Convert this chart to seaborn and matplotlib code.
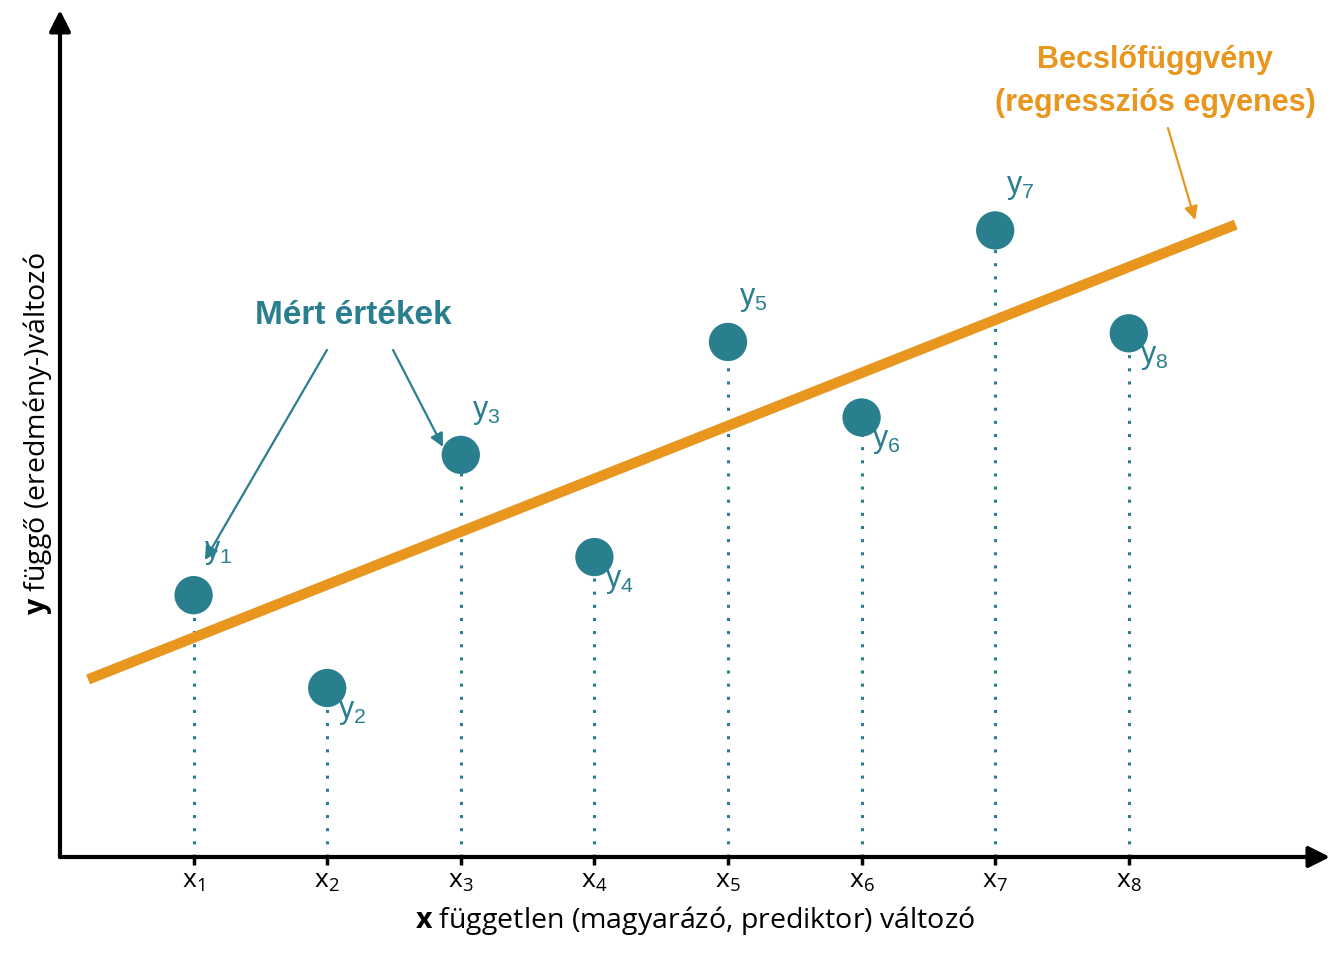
import matplotlib
matplotlib.use('Agg')
import matplotlib.pyplot as plt
import seaborn as sns
import numpy as np
import pandas as pd

# measured points (x index, y value in axis units)
x_vals = [1, 2, 3, 4, 5, 6, 7, 8]
y_vals = [1.96, 1.265, 3.01, 2.245, 3.855, 3.29, 4.69, 3.92]
x_labels = ['$\\mathrm{x}_%d$' % i for i in x_vals]
y_labels = ['$\\mathregular{y_%d}$' % i for i in x_vals]
line_x = [0.21, 8.80]

teal = '#2a7f8f'
orange = '#e8961e'

sns.set_theme(style='white')
plt.rcParams['mathtext.fontset'] = 'custom'
plt.rcParams['mathtext.rm'] = 'Open Sans'
plt.rcParams['mathtext.bf'] = 'Open Sans:bold'
plt.rcParams['font.family'] = ['Open Sans', 'DejaVu Sans']

df = pd.DataFrame({'x': x_vals, 'y': y_vals})

fig = plt.figure(figsize=(13.44, 9.6), dpi=100)
ax = fig.add_axes([60 / 1344, 103 / 960, 1270 / 1344, 847 / 960])
ax.set_xlim(0, 9.506)
ax.set_ylim(0, 6.34)

# dotted drop lines
ax.vlines(df['x'], 0, df['y'], colors=teal, linewidth=2.2,
          linestyles=(0, (1, 3.3)), zorder=1)

# regression line
slope, intercept = np.polyfit(df['x'], df['y'], 1)
fit = pd.DataFrame({'x': line_x})
fit['y'] = slope * fit['x'] + intercept
sns.lineplot(data=fit, x='x', y='y', color=orange, linewidth=7.5,
             solid_capstyle='butt', ax=ax, zorder=2)

sns.scatterplot(data=df, x='x', y='y', s=760, color=teal, edgecolor='none',
                ax=ax, zorder=3)

# point labels, above or below depending on the residual
for xi, yi, lab in zip(df['x'], df['y'], y_labels):
    dy = 31 if yi > slope * xi + intercept else -17
    ax.annotate(lab, (xi, yi), xytext=(18, dy), textcoords='offset points',
                ha='center', va='center', fontsize=22, color=teal,
                family='Liberation Sans')

# axes with arrows
for s in ax.spines.values():
    s.set_visible(False)
ax.annotate('', xy=(0, 6.34), xytext=(0, 0), annotation_clip=False,
            arrowprops=dict(arrowstyle='-|>', lw=3, color='black',
                            mutation_scale=32, shrinkA=0, shrinkB=0))
ax.annotate('', xy=(9.506, 0), xytext=(0, 0), annotation_clip=False,
            arrowprops=dict(arrowstyle='-|>', lw=3, color='black',
                            mutation_scale=32, shrinkA=0, shrinkB=0))

ax.set_xticks(x_vals)
ax.set_xticklabels(x_labels, fontsize=19)
ax.set_yticks([])
ax.tick_params(axis='x', direction='out', length=6, width=2.5, color='black',
               bottom=True, pad=3, labelcolor='black')
ax.set_xlabel('$\\mathbf{x}$ független (magyarázó, prediktor) változó',
              fontsize=20.5, color='black', labelpad=7)
ax.set_ylabel('$\\mathbf{y}$ függő (eredmény-)változó',
              fontsize=20.5, color='black', labelpad=4)

# annotations
ax.text(2.193, 4.05, 'Mért értékek', ha='center', va='center', fontsize=24,
        fontweight='bold', color=teal, family='Liberation Sans')
for start, end in [((1.998, 3.795), (1.085, 2.223)),
                   ((2.493, 3.795), (2.867, 3.069))]:
    ax.annotate('', xy=end, xytext=start,
                arrowprops=dict(arrowstyle='-|>', lw=1.6, color=teal,
                                mutation_scale=20, shrinkA=0, shrinkB=0))

ax.text(8.196, 5.966, 'Becslőfüggvény', ha='center', va='center', fontsize=22,
        fontweight='bold', color=orange, family='Liberation Sans')
ax.text(8.196, 5.644, '(regressziós egyenes)', ha='center', va='center',
        fontsize=22, fontweight='bold', color=orange, family='Liberation Sans')
ax.annotate('', xy=(8.496, 4.768), xytext=(8.293, 5.457),
            arrowprops=dict(arrowstyle='-|>', lw=1.6, color=orange,
                            mutation_scale=20, shrinkA=0, shrinkB=0))

fig.savefig('out.png', dpi=100)
